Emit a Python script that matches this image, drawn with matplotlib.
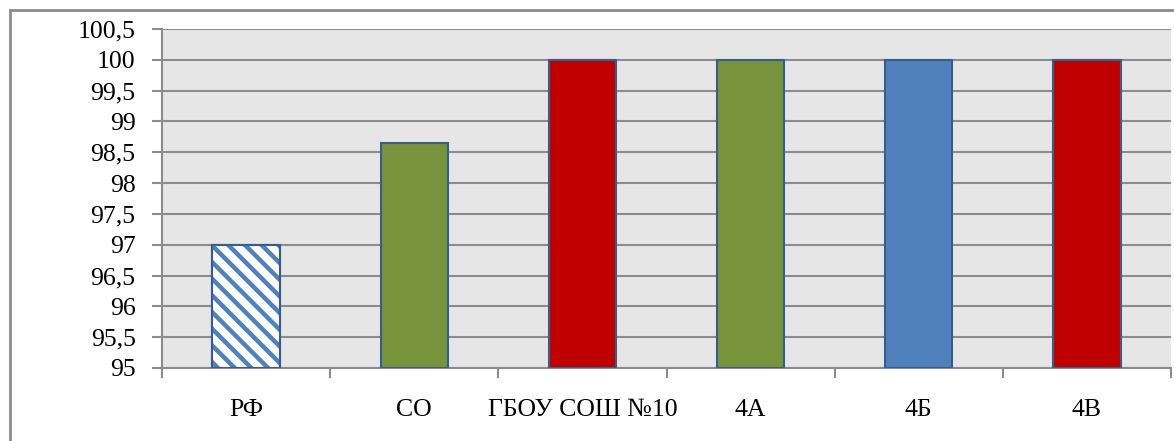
import matplotlib.pyplot as plt
from matplotlib.patches import Rectangle
from matplotlib.ticker import FixedLocator, NullFormatter

plt.rcParams['font.family'] = ['Liberation Serif', 'DejaVu Serif']
plt.rcParams['hatch.linewidth'] = 3.2

categories = ['РФ', 'СО', 'ГБОУ СОШ №10', '4А', '4Б', '4В']
values = [97, 98.65, 100, 100, 100, 100]
colors = ['white', '#77933C', '#C00000', '#77933C', '#4F81BD', '#C00000']
y_ticks = [95 + 0.5 * i for i in range(12)]
y_labels = [('%g' % t).replace('.', ',') for t in y_ticks]

grid_col = '#8C8C8C'

fig = plt.figure(figsize=(11.74, 4.41), dpi=100)
W, H = 1174, 441

# рамка вокруг диаграммы
fig.patches.append(Rectangle((10 / W, -0.05), 1.2, 1 - 10 / H + 0.05,
                             transform=fig.transFigure, fill=False,
                             edgecolor='#8C8C8C', linewidth=2))

ax = fig.add_axes([162 / W, 1 - 368 / H, (1171 - 162) / W, (368 - 29) / H])
ax.set_facecolor('#E6E6E6')

x = list(range(len(categories)))
bars = ax.bar(x, [v - 95 for v in values], bottom=95, width=0.4,
              color=colors, edgecolor='#385D8A', linewidth=1.5, zorder=3)
bars[0].set_hatch('\\\\')
bars[0].set_edgecolor('#4F81BD')
# контур первого столбца отдельно, тёмный
ax.bar(x[0], values[0] - 95, bottom=95, width=0.4, fill=False,
       edgecolor='#385D8A', linewidth=1.5, zorder=4)

ax.set_ylim(95, 100.5)
ax.set_xlim(-0.5, len(categories) - 0.5)
ax.set_yticks(y_ticks)
ax.set_yticklabels(y_labels, fontsize=18.5)
ax.yaxis.grid(True, color=grid_col, linewidth=1.5, zorder=0)

ax.set_xticks(x)
ax.set_xticklabels(categories, fontsize=18.5)
ax.tick_params(axis='x', length=0, pad=22)
ax.xaxis.set_minor_locator(FixedLocator([i + 0.5 for i in range(-1, len(categories))]))
ax.xaxis.set_minor_formatter(NullFormatter())
ax.tick_params(axis='x', which='minor', length=7, width=1.5, color=grid_col)
ax.tick_params(axis='y', length=7, width=1.5, color=grid_col, pad=12)

for side in ['left', 'bottom']:
    ax.spines[side].set_color(grid_col)
    ax.spines[side].set_linewidth(1.5)
for side in ['top', 'right']:
    ax.spines[side].set_visible(False)
ax.set_axisbelow(True)

fig.savefig('out.png', dpi=100)
